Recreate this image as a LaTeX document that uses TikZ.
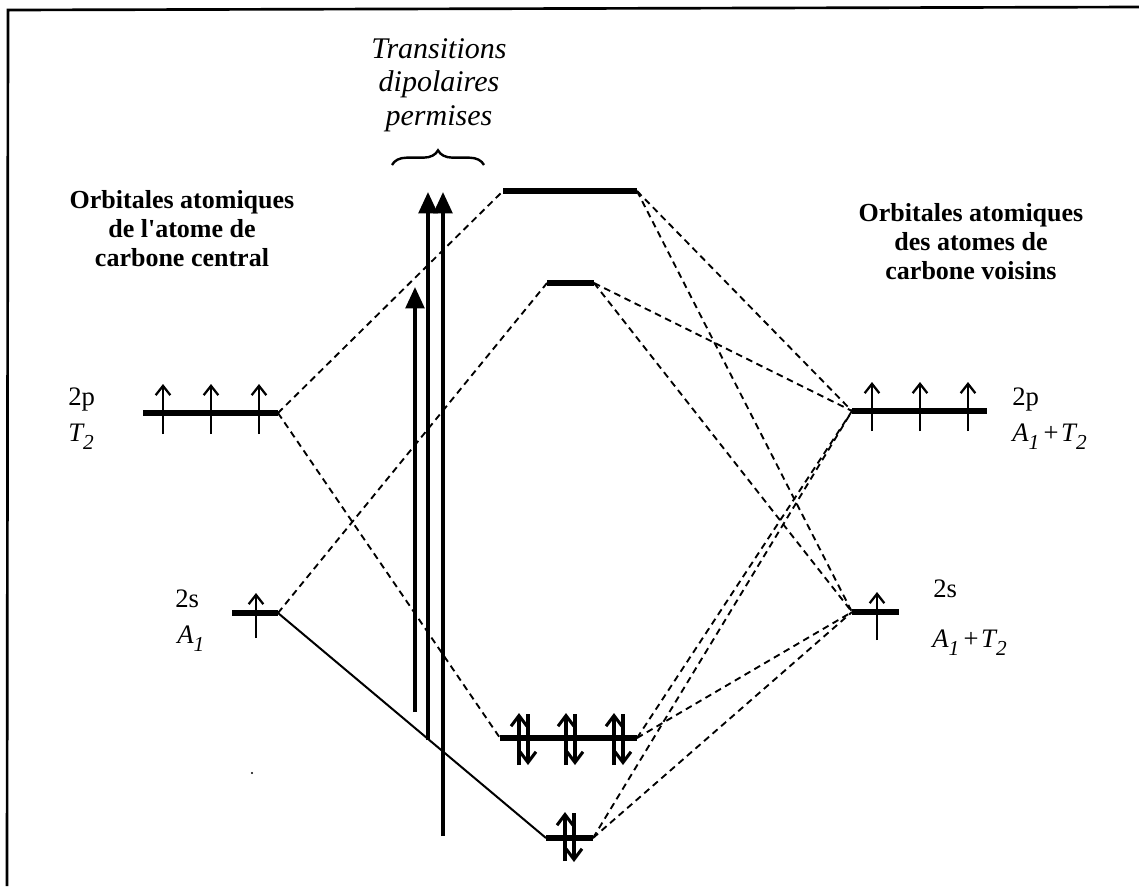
\documentclass[tikz,border=0pt]{standalone}
\usepackage{fontspec}
\setmainfont{Liberation Serif}
\usetikzlibrary{arrows.meta,decorations.pathreplacing}
\newcommand{\mysub}[1]{\raisebox{-0.3em}{\fontsize{16}{16}\selectfont #1}}
\begin{document}
\begin{tikzpicture}[x=0.75pt,y=-0.75pt,
 level/.style={line width=5.2pt},
 corr/.style={line width=1.4pt, dash pattern=on 5pt off 3.5pt},
 solidcorr/.style={line width=1.5pt},
 spin/.style={line width=1.5pt, -{Straight Barb[length=7pt,width=11pt,line width=1.7pt]}},
 pairarrow/.style={line width=2.3pt, -{Straight Barb[length=8pt,width=12pt,line width=2.3pt]}},
 trans/.style={line width=2.6pt, -{Triangle[length=16pt,width=14pt]}},
 lab/.style={anchor=base west, font=\fontsize{20}{22}\selectfont, inner sep=0pt},
 head/.style={align=center, font=\fontsize{19.5}{21.75}\selectfont\bfseries, inner sep=0pt},
 frame/.style={line width=2pt}]
\useasboundingbox (0,0) rectangle (1139,886);
% frame
\coordinate (fTL) at (8,10);
\coordinate (fTR) at (1139,7);
\coordinate (fBL) at (7,886);
\draw[frame] (fTR) -- (fTL) -- (fBL);
% level end points
\coordinate (L2pL) at (143,413); \coordinate (L2pR) at (278,413);
\coordinate (L2sL) at (232,613); \coordinate (L2sR) at (278,613);
\coordinate (M4L) at (503,191);  \coordinate (M4R) at (637,191);
\coordinate (M3L) at (547,283);  \coordinate (M3R) at (594,283);
\coordinate (M2L) at (500,738);  \coordinate (M2R) at (637,738);
\coordinate (M1L) at (546,838);  \coordinate (M1R) at (593,838);
\coordinate (R2pL) at (852,411); \coordinate (R2pR) at (987,411);
\coordinate (R2sL) at (852,612); \coordinate (R2sR) at (899,612);
% levels
\foreach \a/\b in {L2pL/L2pR, L2sL/L2sR, M4L/M4R, M3L/M3R, M2L/M2R, M1L/M1R, R2pL/R2pR, R2sL/R2sR}
  \draw[level] (\a) -- (\b);
% correlation lines
\draw[corr] (L2pR) -- (M4L);
\draw[corr] (L2pR) -- (M2L);
\draw[corr] (L2sR) -- (M3L);
\draw[solidcorr] (L2sR) -- (M1L);
\foreach \m in {M4R, M3R, M2R, M1R}{
  \draw[corr] (\m) -- (R2pL);
  \draw[corr] (\m) -- (R2sL);
}
% spins
\foreach \x in {163,211,259} \draw[spin] (\x,434) -- (\x,384);
\draw[spin] (256,638) -- (256,593);
\foreach \x in {872,920,968} \draw[spin] (\x,431) -- (\x,382);
\draw[spin] (877,640) -- (877,592);
\foreach \x in {519,566,614}{
  \draw[pairarrow] (\x,765) -- (\x,713);
  \draw[pairarrow] (\x+9,714) -- (\x+9,765);
}
\draw[pairarrow] (565,861) -- (565,812);
\draw[pairarrow] (574,813) -- (574,862);
% transitions
\coordinate (t1a) at (415,712); \coordinate (t1b) at (415,287);
\coordinate (t2a) at (428,740); \coordinate (t2b) at (428,192);
\coordinate (t3a) at (443,836); \coordinate (t3b) at (443,192);
\draw[trans] (t1a) -- (t1b);
\draw[trans] (t2a) -- (t2b);
\draw[trans] (t3a) -- (t3b);
\coordinate (brL) at (392,165); \coordinate (brR) at (484,165);
\draw[line width=1.8pt, decorate, decoration={brace, amplitude=11pt}] (brL) -- (brR);
% texts
\node[align=center, inner sep=0pt, font=\fontsize{22.5}{25}\selectfont\itshape] (ttrans) at (439,85)
  {Transitions\\dipolaires\\permises};
\node[head] (hleft) at (182,229) {Orbitales atomiques\\de l\textquotesingle atome de\\carbone central};
\node[head] (hright) at (971,242) {Orbitales atomiques\\des atomes de\\carbone voisins};
\node[lab] (l2p) at (68,405) {2p};
\node[lab] (lT2) at (68,441) {\itshape T\mysub{2}};
\node[lab] (l2s) at (175,607) {2s};
\node[lab] (lA1) at (177,643) {\itshape A\mysub{1}};
\node[lab] (r2p) at (1012,405) {2p};
\node[lab] (rA1T2p) at (1012,441) {\itshape A\mysub{1}\kern2pt+\kern1pt T\mysub{2}};
\node[lab] (r2s) at (933,597) {2s};
\node[lab] (rA1T2s) at (932,647) {\itshape A\mysub{1}\kern2pt+\kern1pt T\mysub{2}};
% stray dot
\fill (252,773) circle (1.2);
\end{tikzpicture}
\end{document}
